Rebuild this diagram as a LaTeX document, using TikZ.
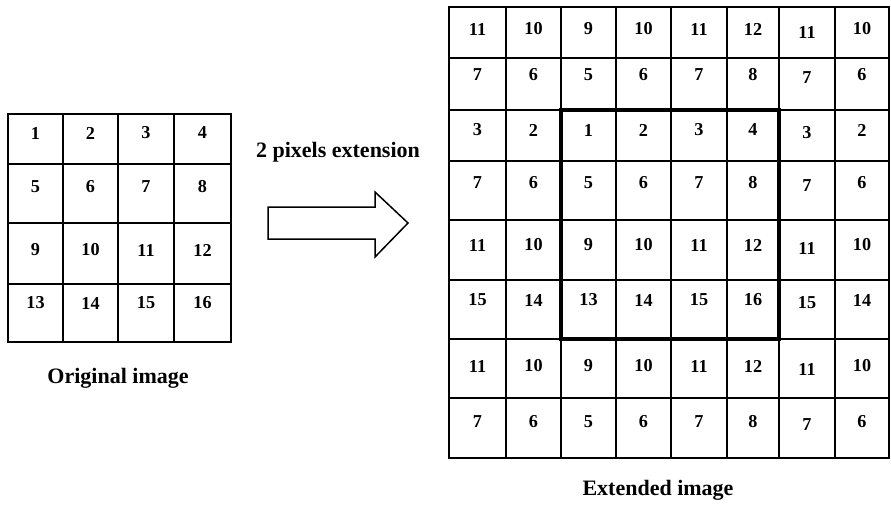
\documentclass[tikz,border=0pt]{standalone}
\usepackage{fontspec}
\setmainfont{Liberation Serif}
\begin{document}
\begin{tikzpicture}[x=1pt,y=-1pt,
  gridline/.style={line width=1.6pt, line cap=rect},
  boldbox/.style={line width=4pt, line join=miter},
  num/.style={font=\fontsize{18.2}{21}\selectfont\bfseries, inner sep=0pt},
  lbl/.style={font=\fontsize{22}{26}\selectfont\bfseries, inner sep=0pt, anchor=base},
  arrowshape/.style={draw, line width=1.5pt, line join=miter, fill=white}]
\useasboundingbox (0,0) rectangle (891,504);
% original grid
\foreach \y in {114,164,223,284,342} \draw[gridline] (8,\y) -- (231,\y);
\foreach \x in {8,63,118,174,231} \draw[gridline] (\x,114) -- (\x,342);
\foreach \r/\y in {0/133,1/187,2/250,3/303}
  \foreach \c/\x in {0/35.5,1/90.5,2/146,3/202.5} {
    \pgfmathtruncatemacro\v{\r*4+\c+1}
    \node[num] (o\v) at (\x,\y) {\v};
  }
\node[lbl] (orig) at (118,383) {Original image};
% arrow
\node[lbl] (pix) at (338,157) {2 pixels extension};
\draw[arrowshape] (268,207) -- (375,207) -- (375,192) -- (408,223) -- (375,257) -- (375,239) -- (268,239) -- cycle;
% extended grid
\foreach \y in {7,58,110,161,220,280,339,398,458} \draw[gridline] (449,\y) -- (889,\y);
\foreach \x in {449,506,561,616,671,727,779,835,889} \draw[gridline] (\x,7) -- (\x,458);
\foreach \r/\y/\vals in {1/29/{11,10,9,10,11,12,11,10},
                         2/75/{7,6,5,6,7,8,7,6},
                         3/130/{3,2,1,2,3,4,3,2},
                         4/183/{7,6,5,6,7,8,7,6},
                         5/245/{11,10,9,10,11,12,11,10},
                         6/300/{15,14,13,14,15,16,15,14},
                         7/366/{11,10,9,10,11,12,11,10},
                         8/422/{7,6,5,6,7,8,7,6}}
  \foreach \v [count=\c] in \vals {
    \pgfmathsetmacro\xx{{477.5,533.5,588.5,643.5,699,753,807,862}[\c-1]}
    \pgfmathsetmacro\dy{\c==7 ? 3 : 0}
    \node[num] (e\r-\c) at (\xx,\y+\dy) {\v};
  }
\draw[boldbox] (561,110) rectangle (779,339);
\node[lbl] (ext) at (658,495) {Extended image};
\end{tikzpicture}
\end{document}
